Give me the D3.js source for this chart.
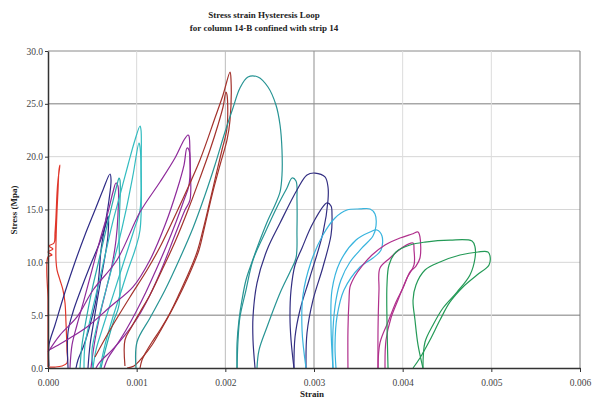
<!DOCTYPE html>
<html>
<head>
<meta charset="utf-8">
<script src="https://cdn.jsdelivr.net/npm/d3@7"></script>
<style>
  body { margin: 0; background: #fff; }
  text { font-family: "Liberation Serif", "DejaVu Serif", serif; }
</style>
</head>
<body>
<div id="chart"></div>
<script>
//data: each loop is a list of [strain (x 10^-3), stress (MPa)]
var red1 = [[0,0.09],[0,3.60],[0,6.44],[0,10.51],[0.045,10.69],[0,10.98],[0.056,11.26],[0.011,11.55],[0.068,11.83],
  [0.079,12.78],[0.090,14.29],[0.102,16.56],[0.113,17.79],[0.135,19.21],[0.124,18.74],[0.113,16.85],[0.102,14.95],
  [0.090,11.83],[0.090,10.22],[0.102,9.27],[0.135,8.33],[0.169,7.38],[0.192,6.15],[0.203,4.26],[0.214,1.70],
  [0.214,0.47],[0.158,0.19],[0.079,0.09],[0,0.09]];

var navy1 = [[0.011,0.19],[0.011,2.18],[0.079,4.07],[0.192,7.19],[0.305,10.03],[0.417,12.59],[0.530,14.95],[0.620,16.85],
  [0.699,18.36],[0.711,17.79],[0.688,15.90],[0.643,13.53],[0.598,11.17],[0.575,8.80],[0.541,6.44],[0.474,4.07],
  [0.406,2.18],[0.338,0.76],[0.316,0]];
var navy2 = [[0.226,0],[0.226,3.41],[0.282,5.30],[0.361,7.19],[0.474,9.65],[0.586,11.92],[0.654,13.63],[0.677,14.38],
  [0.677,12.59],[0.632,10.03],[0.575,7.38],[0.519,4.54],[0.474,2.18],[0.451,0]];

var purple1 = [[0.248,0],[0.271,2.18],[0.327,4.07],[0.406,6.44],[0.496,9.27],[0.586,12.11],[0.677,14.76],[0.733,16.66],
  [0.767,17.51],[0.789,17.22],[0.789,14.48],[0.767,12.11],[0.722,9.75],[0.654,7.38],[0.586,5.02],[0.530,2.65],
  [0.496,0.76],[0.485,0]];

var teal1 = [[0.361,0],[0.383,2.18],[0.429,4.54],[0.496,7.38],[0.575,10.22],[0.654,13.06],[0.722,15.43],[0.778,17.32],
  [0.801,17.98],[0.812,17.79],[0.801,13.06],[0.801,5.96],[0.744,4.54],[0.677,2.65],[0.632,1.23],[0.598,0]];
var teal2 = [[0.406,0],[0.417,2.18],[0.474,4.54],[0.553,7.38],[0.632,10.22],[0.722,13.53],[0.812,16.37],[0.902,19.21],
  [0.981,21.58],[1.038,22.90],[1.049,22.52],[1.049,18.74],[1.038,14.95],[0.970,13.06],[0.880,10.69],[0.789,8.33],
  [0.699,5.96],[0.609,3.60],[0.541,1.70],[0.508,0]];
var teal3 = [[0.508,0],[0.496,1.70],[0.541,3.60],[0.609,5.96],[0.699,8.80],[0.789,11.64],[0.880,14.95],[0.959,18.27],
  [1.026,21.29],[1.038,20.92],[1.038,13.06],[0.981,11.17],[0.902,9.27],[0.812,6.91],[0.722,4.54],[0.643,2.18],[0.586,0]];

var purple2 = [[0,1.51],[0.135,3.12],[0.327,4.83],[0.508,7.38],[0.778,10.22],[1.038,14.76],[1.263,17.60],[1.432,19.87],
  [1.534,21.58],[1.579,22.05],[1.590,21.96],[1.601,19.69],[1.601,15.90],[1.545,14.95],[1.432,12.59],[1.286,9.46],
  [1.150,6.91],[1.015,4.83],[0.868,3.12],[0.722,1.70],[0.586,0.57],[0.541,0]];
var purple3 = [[0.011,1.70],[0.135,2.27],[0.248,2.84],[0.440,3.88],[0.699,5.77],[0.959,7.67],[1.150,10.22],[1.320,13.53],
  [1.455,16.85],[1.534,19.21],[1.568,20.82],[1.590,20.63],[1.590,17.32],[1.534,15.90],[1.444,13.82],[1.331,11.45],
  [1.218,9.27],[1.105,7.19],[0.992,5.30],[0.880,3.60],[0.767,2.08],[0.677,0.95],[0.632,0]];

var brown1 = [[0.530,1.04],[0.699,3.60],[0.925,6.72],[1.117,9.27],[1.263,11.45],[1.489,15.43],[1.714,19.69],[1.883,23.66],
  [1.974,25.84],[2.053,28.01],[2.064,27.26],[2.053,23.47],[2.019,21.58],[1.940,19.21],[1.850,16.37],[1.771,13.53],
  [1.703,11.17],[1.624,9.46],[1.523,7.57],[1.398,5.49],[1.286,3.79],[1.173,2.18],[1.060,0.95],[0.970,0.19],[0.891,0]];
var brown2 = [[0.868,0.19],[0.868,2.65],[0.936,3.79],[1.038,5.30],[1.150,6.91],[1.286,9.27],[1.432,11.92],[1.579,14.95],
  [1.714,17.98],[1.827,20.63],[1.917,23.00],[1.974,24.70],[2.007,26.12],[2.019,25.84],[2.019,22.71],[1.962,20.63],
  [1.895,18.27],[1.816,15.43],[1.748,13.06],[1.681,10.98],[1.601,9.27],[1.489,7.19],[1.376,5.21],[1.263,3.60],
  [1.173,2.46],[1.105,1.51],[1.060,0.76],[1.038,0]];

var teal4 = [[0.992,0],[1.004,2.46],[1.150,4.73],[1.320,7.38],[1.489,10.41],[1.635,13.25],[1.771,16.37],[1.883,19.21],
  [1.996,22.33],[2.086,24.61],[2.165,26.50],[2.255,27.54],[2.368,27.54],[2.481,26.59],[2.571,24.89],[2.617,23.00],
  [2.639,20.63],[2.639,18.27],[2.617,16.66],[2.560,15.43],[2.481,14.01],[2.391,12.11],[2.301,10.03],[2.233,8.33],
  [2.188,6.44],[2.154,4.54],[2.132,2.37],[2.132,0]];
var teal5 = [[2.132,0],[2.143,2.65],[2.165,4.83],[2.233,7.38],[2.312,10.22],[2.436,12.59],[2.583,15.24],[2.695,17.04],
  [2.752,17.98],[2.797,17.70],[2.808,15.90],[2.808,13.06],[2.797,10.41],[2.729,9.09],[2.617,7.10],[2.470,3.88],
  [2.380,1.70],[2.357,0]];

var navy3 = [[2.335,0],[2.312,2.65],[2.312,4.83],[2.357,8.04],[2.470,11.17],[2.617,13.72],[2.808,16.85],[2.921,18.27],
  [3.011,18.45],[3.124,18.08],[3.158,17.13],[3.158,15.90],[3.101,12.78],[2.955,8.61],[2.842,5.49],[2.786,2.93],[2.774,0]];
var navy4 = [[2.774,0],[2.741,2.65],[2.729,4.83],[2.741,7.38],[2.786,9.75],[2.865,11.36],[2.989,13.72],[3.147,15.62],
  [3.192,15.33],[3.203,14.48],[3.192,12.59],[3.101,9.56],[2.989,6.44],[2.921,3.31],[2.910,0]];

var cyan1 = [[2.910,0],[2.865,3.60],[2.876,6.91],[2.966,10.03],[3.101,12.59],[3.237,14.20],[3.372,14.95],[3.519,15.05],
  [3.632,15.05],[3.688,14.57],[3.699,13.44],[3.665,12.49],[3.541,11.36],[3.406,10.03],[3.304,8.33],[3.248,6.44],
  [3.214,3.60],[3.214,0]];
var cyan2 = [[3.214,0],[3.192,3.88],[3.203,7.38],[3.293,10.03],[3.474,12.11],[3.632,12.87],[3.710,13.06],[3.767,12.49],
  [3.756,11.17],[3.665,10.41],[3.519,9.56],[3.338,7.38],[3.259,4.83],[3.237,2.18],[3.248,0]];

var magenta1 = [[3.383,0],[3.383,3.60],[3.395,6.44],[3.406,7.67],[3.462,8.71],[3.541,9.65],[3.654,10.69],[3.801,11.64],
  [3.970,12.30],[4.105,12.68],[4.173,12.87],[4.195,12.40],[4.195,10.41],[4.150,9.65],[4.083,9.09],[4.004,7.57],
  [3.925,6.25],[3.835,4.35],[3.744,2.37],[3.722,0]];
var magenta2 = [[3.722,0],[3.722,3.60],[3.733,7.38],[3.744,9.46],[3.857,10.41],[4.004,11.45],[4.117,11.83],[4.128,11.17],
  [4.128,9.75],[4.049,8.52],[3.947,6.44],[3.868,4.73],[3.812,2.65],[3.801,0]];

var green1 = [[3.835,0],[3.823,4.54],[3.823,7.86],[3.846,9.75],[3.925,10.98],[4.083,11.64],[4.252,11.92],[4.534,12.11],
  [4.782,12.02],[4.816,11.45],[4.816,10.41],[4.759,8.80],[4.613,7.19],[4.455,5.68],[4.342,4.07],[4.252,2.46],[4.229,0]];
var green2 = [[4.229,0],[4.173,2.18],[4.139,4.54],[4.117,6.44],[4.150,7.86],[4.252,9.27],[4.421,10.03],[4.647,10.69],
  [4.850,10.98],[4.962,10.98],[4.985,10.60],[4.974,9.75],[4.838,8.80],[4.680,7.67],[4.534,6.25],[4.421,4.54],
  [4.308,2.65],[4.195,0.95],[4.117,0]];

var loops = [red1, navy1, navy2, purple1, teal1, teal2, teal3, purple2, purple3, brown1, brown2,
  teal4, teal5, navy3, navy4, cyan1, cyan2, magenta1, magenta2, green1, green2];
var loopColors = ['#e0362a', '#2e2b86', '#2e2b86', '#8e2a9a', '#2aabab', '#33bcc0', '#33bcc0', '#8e2a9a', '#8e2a9a',
  '#a3322c', '#a3322c', '#279494', '#279494', '#332f82', '#332f82', '#38b4de', '#38b4de', '#b0308c', '#b0308c',
  '#249a57', '#249a57'];

var xTicks = [0, 0.001, 0.002, 0.003, 0.004, 0.005, 0.006];
var yTicks = [0, 5, 10, 15, 20, 25, 30];

//dims
var width = 601;
var height = 419;
var margin = { left: 48, right: 21, top: 51, bottom: 51 };

var svg = d3.select('#chart')
  .append('svg')
  .attr('width', width)
  .attr('height', height);

var x = d3.scaleLinear().domain([0, 0.006]).range([margin.left, width - margin.right]);
var y = d3.scaleLinear().domain([0, 30]).range([height - margin.bottom, margin.top]);

//grid
var hGridColor = { 5: '#7c7c7c', 10: '#d6d6d6', 15: '#d6d6d6', 20: '#d6d6d6', 25: '#7c7c7c', 30: '#8a8a8a' };
var vGridColor = { 1: '#d9d9d9', 2: '#bcbcbc', 3: '#8f8f8f', 4: '#dcdcdc', 5: '#dcdcdc', 6: '#7a7a7a' };

svg.append('g').selectAll('line')
  .data(yTicks.slice(1))
  .enter()
  .append('line')
  .attr('x1', x(0)).attr('x2', x(0.006))
  .attr('y1', function(d) { return y(d); })
  .attr('y2', function(d) { return y(d); })
  .attr('stroke', function(d) { return hGridColor[d]; })
  .attr('stroke-width', 1);

svg.append('g').selectAll('line')
  .data(xTicks.slice(1))
  .enter()
  .append('line')
  .attr('x1', function(d) { return x(d); })
  .attr('x2', function(d) { return x(d); })
  .attr('y1', y(0)).attr('y2', y(30))
  .attr('stroke', function(d) { return vGridColor[Math.round(d * 1000)]; })
  .attr('stroke-width', 1);

//loops (smoothed like the source plot)
var line = d3.line()
  .curve(d3.curveCatmullRom.alpha(0.5))
  .x(function(d) { return x(d[0] / 1000); })
  .y(function(d) { return y(d[1]); });

svg.append('g').selectAll('path')
  .data(loops)
  .enter()
  .append('path')
  .attr('d', line)
  .attr('fill', 'none')
  .attr('stroke', function(d, i) { return loopColors[i]; })
  .attr('stroke-width', 1.2)
  .attr('stroke-linejoin', 'round');

//axes
var xAxis = d3.axisBottom(x)
  .tickValues(xTicks)
  .tickFormat(d3.format('.3f'))
  .tickSize(4)
  .tickSizeOuter(0);

var yAxis = d3.axisLeft(y)
  .tickValues(yTicks)
  .tickFormat(d3.format('.1f'))
  .tickSize(3)
  .tickSizeOuter(0);

var gx = svg.append('g')
  .attr('transform', 'translate(0,' + y(0) + ')')
  .call(xAxis);
gx.select('.domain').attr('stroke', '#333').attr('stroke-width', 1.5);
gx.selectAll('.tick line').attr('stroke', '#333');
gx.selectAll('.tick text')
  .attr('dy', 11)
  .attr('fill', '#444')
  .style('font-size', '9.5px')
  .style('font-family', '"Liberation Serif", serif');

var gy = svg.append('g')
  .attr('transform', 'translate(' + x(0) + ',0)')
  .call(yAxis);
gy.select('.domain').attr('stroke', '#333').attr('stroke-width', 1.5);
gy.selectAll('.tick line').attr('stroke', '#333');
gy.selectAll('.tick text')
  .attr('x', -5)
  .attr('fill', '#444')
  .style('font-size', '9.5px')
  .style('font-family', '"Liberation Serif", serif');

//titles
svg.append('text')
  .attr('x', 264).attr('y', 18)
  .attr('text-anchor', 'middle')
  .style('font-size', '9px')
  .style('font-weight', 'bold')
  .attr('fill', '#222')
  .text('Stress strain Hysteresis Loop');

svg.append('text')
  .attr('x', 264).attr('y', 31)
  .attr('text-anchor', 'middle')
  .style('font-size', '9px')
  .style('font-weight', 'bold')
  .attr('fill', '#222')
  .text('for column 14-B confined with strip 14');

svg.append('text')
  .attr('x', 312).attr('y', 397)
  .attr('text-anchor', 'middle')
  .style('font-size', '9px')
  .style('font-weight', 'bold')
  .attr('fill', '#222')
  .text('Strain');

svg.append('text')
  .attr('transform', 'translate(17,' + 210 + ') rotate(-90)')
  .attr('text-anchor', 'middle')
  .style('font-size', '9px')
  .style('font-weight', 'bold')
  .attr('fill', '#222')
  .text('Stress (Mpa)');
</script>
</body>
</html>
